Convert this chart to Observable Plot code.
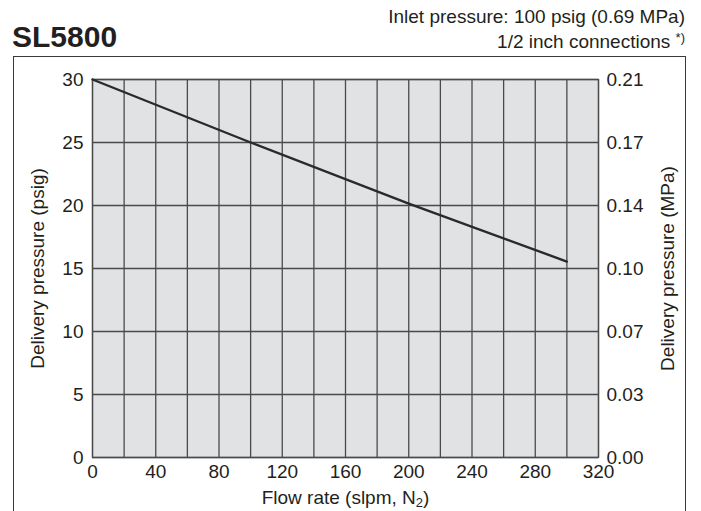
<!DOCTYPE html>
<html>
<head>
<meta charset="utf-8">
<script src="https://cdn.jsdelivr.net/npm/d3@7"></script>
<script src="https://cdn.jsdelivr.net/npm/@observablehq/plot@0.6"></script>
<style>
  html, body { margin: 0; padding: 0; background: #fff; }
  body { width: 701px; height: 511px; overflow: hidden; font-family: "Liberation Sans", Arial, sans-serif; color: #231f20; }
  #header { position: relative; height: 56px; }
  #title { position: absolute; left: 12px; top: 22px; font-size: 30px; font-weight: bold; line-height: 1; }
  #sub { position: absolute; right: 16px; top: 4px; font-size: 19px; line-height: 25px; text-align: right; white-space: nowrap; }
  #sub sup { font-size: 13px; vertical-align: 6px; line-height: 0; }
  #wrap { position: relative; height: 455px; }
  #box { position: absolute; left: 13px; top: 0; width: 671px; height: 470px; border: 1.5px solid #3a3a3a; border-bottom: none; }
  #chart { position: absolute; left: 0; top: 0; }
</style>
</head>
<body>
<div id="header">
  <div id="title">SL5800</div>
  <div id="sub">Inlet pressure: 100 psig (0.69 MPa)<br>1/2 inch connections <sup>*)</sup></div>
</div>
<div id="wrap">
  <div id="box"></div>
  <div id="chart"></div>
</div>
<script>
// Data
const flowRate = [0, 100, 200, 300];          // slpm, N2
const deliveryPsig = [30, 25, 20.15, 15.55];   // psig

// Ticks
const xGridTicks = d3.range(0, 321, 20);
const xLabelTicks = [0, 40, 80, 120, 160, 200, 240, 280, 320];
const yTicks = [0, 5, 10, 15, 20, 25, 30];
const mpaLabels = ["0.00", "0.03", "0.07", "0.10", "0.14", "0.17", "0.21"];

const data = flowRate.map((f, i) => ({flow: f, psig: deliveryPsig[i]}));
const mpaOf = new Map(yTicks.map((t, i) => [t, mpaLabels[i]]));

const ink = "#231f20";
const gridColor = "#4a4a4a";

const chart = Plot.plot({
  width: 701,
  height: 455,
  marginLeft: 92,
  marginRight: 103,
  marginTop: 23,
  marginBottom: 54,
  style: {fontFamily: "'Liberation Sans', Arial, sans-serif", fontSize: "19px", color: ink, background: "transparent", overflow: "visible"},
  x: {domain: [0, 320]},
  y: {domain: [0, 30]},
  marks: [
    Plot.frame({fill: "#e1e2e4", stroke: null}),
    Plot.gridX(xGridTicks, {stroke: gridColor, strokeOpacity: 1, strokeWidth: 1.3}),
    Plot.gridY(yTicks, {stroke: gridColor, strokeOpacity: 1, strokeWidth: 1.3}),
    Plot.frame({stroke: gridColor, strokeWidth: 1.3}),
    Plot.line(data, {x: "flow", y: "psig", stroke: "#2a2a2a", strokeWidth: 2.4}),
    Plot.axisX(xLabelTicks, {tickSize: 0, tickPadding: 7, fontSize: 19, label: "Flow rate (slpm, N2)", labelAnchor: "center", labelArrow: "none", labelOffset: 46, fill: ink}),
    Plot.axisY(yTicks, {anchor: "left", tickSize: 0, tickPadding: 9, fontSize: 19, label: "Delivery pressure (psig)", labelAnchor: "center", labelArrow: "none", labelOffset: 62, fill: ink}),
    Plot.axisY(yTicks, {anchor: "right", tickSize: 0, tickPadding: 8, fontSize: 19, tickFormat: d => mpaOf.get(d), label: "Delivery pressure (MPa)", labelAnchor: "center", labelArrow: "none", labelOffset: 75, fill: ink})
  ]
});
document.getElementById("chart").appendChild(chart);

// subscript the "2" in N2
chart.querySelectorAll("text").forEach(t => {
  if (t.textContent === "Flow rate (slpm, N2)") {
    t.textContent = "";
    const ns = "http://www.w3.org/2000/svg";
    const a = document.createElementNS(ns, "tspan");
    a.textContent = "Flow rate (slpm, N";
    const b = document.createElementNS(ns, "tspan");
    b.textContent = "2";
    b.setAttribute("font-size", "13");
    b.setAttribute("dy", "3");
    const c = document.createElementNS(ns, "tspan");
    c.textContent = ")";
    c.setAttribute("dy", "-3");
    t.appendChild(a); t.appendChild(b); t.appendChild(c);
  }
});
</script>
</body>
</html>
